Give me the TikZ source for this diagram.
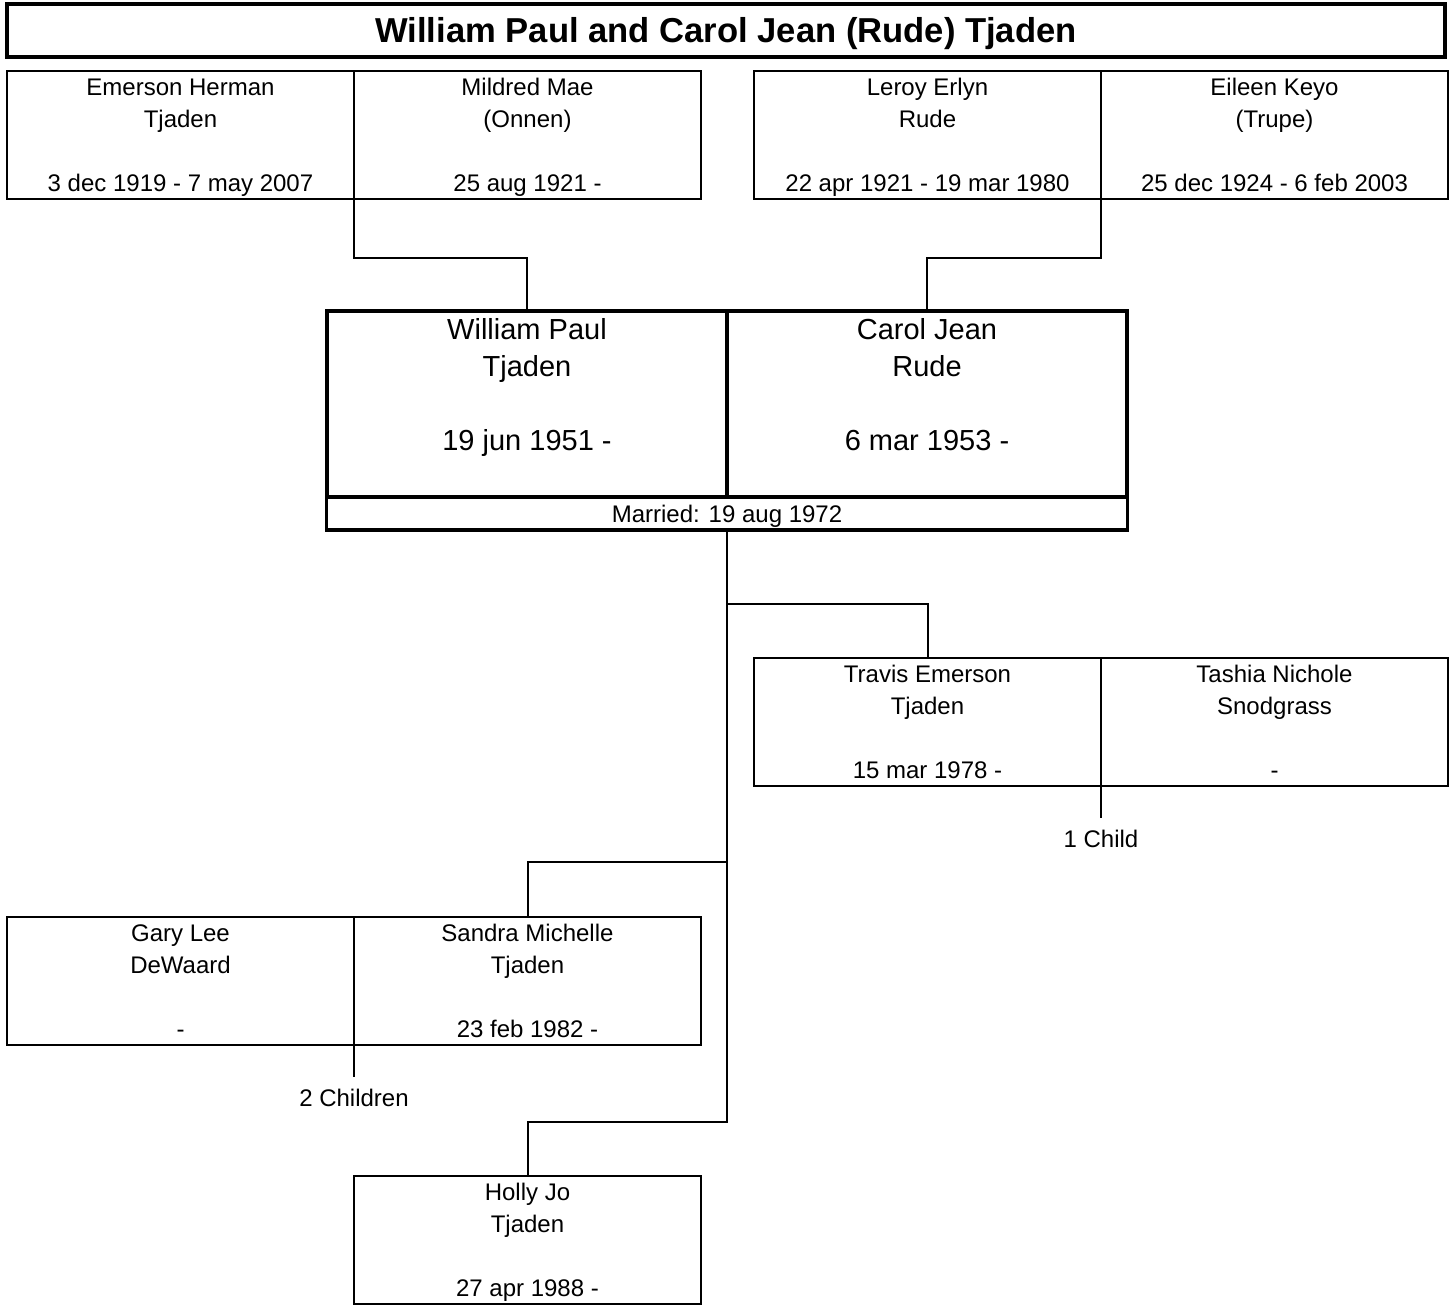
\documentclass[tikz,border=0pt]{standalone}
\usepackage{fontspec}
\setmainfont{Liberation Sans}
\usetikzlibrary{positioning}
\tikzset{
  titlebox/.style={
    draw,
    line width=3.2pt,
    outer sep=0pt,
    inner sep=0pt,
    minimum width=1438pt,
    minimum height=53pt,
    text height=25pt,
    text depth=0pt,
    font=\fontsize{34.6}{40}\selectfont\bfseries
  },
  personbox/.style={
    draw,
    line width=2pt,
    outer sep=0pt,
    inner sep=0pt,
    minimum width=347pt,
    text height=121pt,
    text depth=7pt,
    align=center,
    font=\fontsize{24}{32}\selectfont
  },
  couplebox/.style={
    draw,
    line width=3.2pt,
    outer sep=0pt,
    inner sep=0pt,
    minimum width=400pt,
    text height=139.5pt,
    text depth=46.5pt,
    align=center,
    font=\fontsize{29}{37}\selectfont
  },
  marriedbar/.style={
    draw,
    line width=3.2pt,
    outer sep=0pt,
    inner sep=0pt,
    minimum width=801pt,
    text height=25.5pt,
    text depth=7.5pt,
    font=\fontsize{24}{32}\selectfont
  },
  childnote/.style={inner sep=0pt,font=\fontsize{24}{32}\selectfont},
  famline/.style={line width=2pt}
}

\begin{document}
\begin{tikzpicture}[x=1pt,y=-1pt]
\useasboundingbox (0,0) rectangle (1451,1305);
\node[titlebox] (title) at (726,30.5) {William Paul and Carol Jean (Rude) Tjaden};
% grandparents
\node[personbox] (emerson) at (180.5,135) {Emerson Herman\\Tjaden\\[32pt]3 dec 1919 - 7 may 2007};
\node[personbox,right=0pt of emerson] (mildred) {Mildred Mae\\(Onnen)\\[32pt]25 aug 1921 -};
\node[personbox] (leroy) at (927.5,135) {Leroy Erlyn\\Rude\\[32pt]22 apr 1921 - 19 mar 1980};
\node[personbox,right=0pt of leroy] (eileen) {Eileen Keyo\\(Trupe)\\[32pt]25 dec 1924 - 6 feb 2003};
% the couple
\node[couplebox] (william) at (527,404) {William Paul\\Tjaden\\[37pt]19 jun 1951 -};
\node[couplebox,right=0pt of william] (carol) {Carol Jean\\Rude\\[37pt]6 mar 1953 -};
\node[marriedbar,anchor=north] (married) at (william.south east) {Married: 19 aug 1972};
% children and spouses
\node[personbox] (travis) at (927.5,721.5) {Travis Emerson\\Tjaden\\[32pt]15 mar 1978 -};
\node[personbox,right=0pt of travis] (tashia) {Tashia Nichole\\Snodgrass\\[32pt]-};
\node[personbox] (gary) at (180.5,980.5) {Gary Lee\\DeWaard\\[32pt]-};
\node[personbox,right=0pt of gary] (sandra) {Sandra Michelle\\Tjaden\\[32pt]23 feb 1982 -};
\node[personbox] (holly) at (527.5,1239.5) {Holly Jo\\Tjaden\\[32pt]27 apr 1988 -};
\node[childnote] (travisnote) at (1101,839) {1 Child};
\node[childnote] (sandranote) at (354,1098) {2 Children};

% connectors
\coordinate (tjadenjoin) at (354,258);
\coordinate (rudejoin) at (1101,258);
\draw[famline] (emerson.south east) -- (tjadenjoin) -| (william.north);
\draw[famline] (leroy.south east) -- (rudejoin) -| (carol.north);
\coordinate (kid1) at (727,604);
\coordinate (kid2) at (727,862);
\coordinate (kid3) at (727,1122);
\draw[famline] (married.south) -- (kid3) -| (holly.north);
\draw[famline] (kid1) -| (travis.north);
\draw[famline] (kid2) -| (sandra.north);
\coordinate (traviskids) at (1101,818);
\coordinate (sandrakids) at (354,1077);
\draw[famline] (travis.south east) -- (traviskids);
\draw[famline] (gary.south east) -- (sandrakids);
\end{tikzpicture}
\end{document}
